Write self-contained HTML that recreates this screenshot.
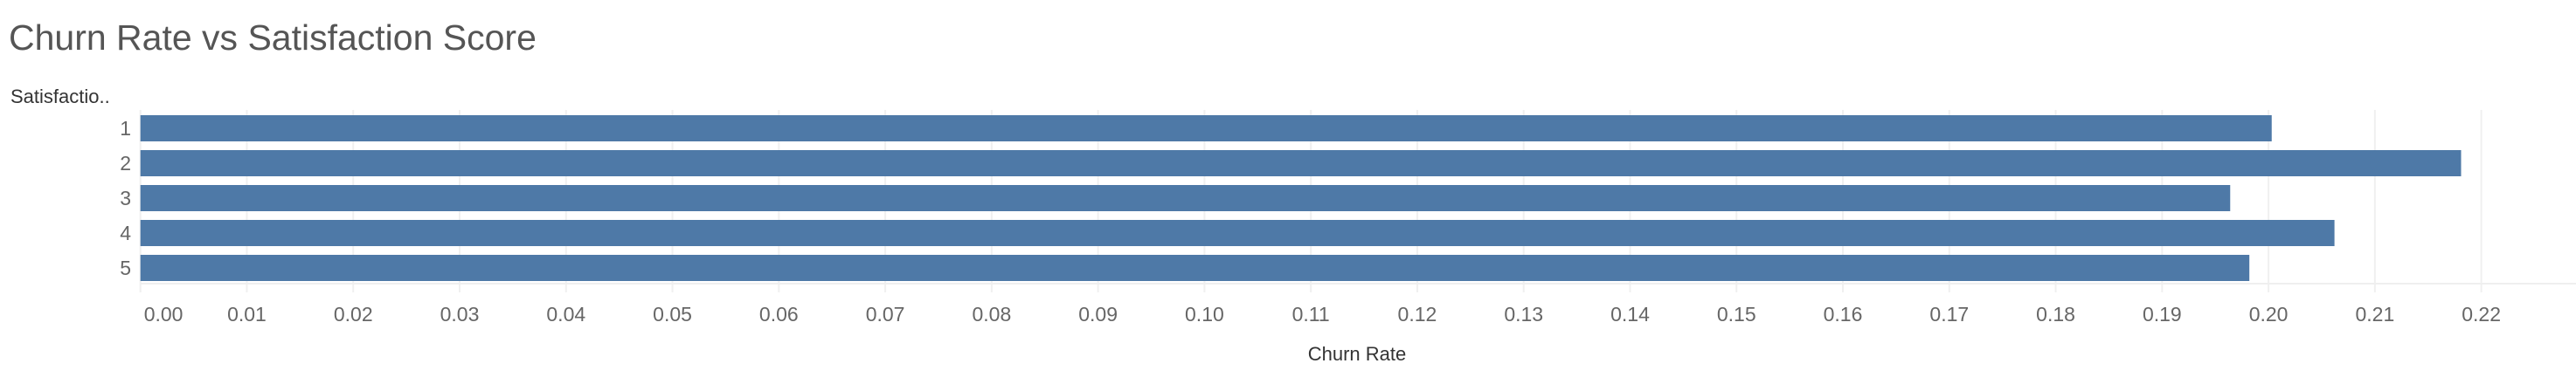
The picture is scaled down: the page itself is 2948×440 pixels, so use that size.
<!DOCTYPE html>
<html><head><meta charset="utf-8"><style>
body{margin:0;background:#fff;width:2948px;height:440px;overflow:hidden;font-family:"Liberation Sans",sans-serif}
svg{display:block}
</style></head><body>
<svg id="chart" width="2948" height="440">
<text x="10" y="57" font-size="41" fill="#555">Churn Rate vs Satisfaction Score</text>
<text x="12" y="118" font-size="22" fill="#333">Satisfactio..</text>
<text x="1553" y="413" font-size="22" fill="#333" text-anchor="middle">Churn Rate</text>
<g id="grid"></g><g id="bars"></g><g id="ylabels"></g><g id="xlabels"></g>
</svg>
<script>
const categories = ["1","2","3","4","5"];
const churnRates = [0.2003, 0.2181, 0.1964, 0.2062, 0.1982];
const xTicks = [0,0.01,0.02,0.03,0.04,0.05,0.06,0.07,0.08,0.09,0.10,0.11,0.12,0.13,0.14,0.15,0.16,0.17,0.18,0.19,0.20,0.21,0.22];
const tickLabels = ["0.00","0.01","0.02","0.03","0.04","0.05","0.06","0.07","0.08","0.09","0.10","0.11","0.12","0.13","0.14","0.15","0.16","0.17","0.18","0.19","0.20","0.21","0.22"];

const NS="http://www.w3.org/2000/svg";
const x0=160.7, pxPerUnit=12177;
function xs(v){return x0+v*pxPerUnit;}
function ys(i){return 132+i*40;}
function mk(tag,attrs,parent){const e=document.createElementNS(NS,tag);for(const k in attrs)e.setAttribute(k,attrs[k]);document.getElementById(parent).appendChild(e);return e;}

xTicks.forEach((t,i)=>{
  const g=mk('line',{x1:xs(t),x2:xs(t),y1:126,y2:335,stroke:'#f0f0f0','stroke-width':2},'grid');
  
  
  const first=(i===0);
  const l=mk('text',{x:first?xs(t)+4:xs(t),y:368,'font-size':23,fill:'#666','text-anchor':first?'start':'middle'},'xlabels');
  l.textContent=tickLabels[i];
  
  
});
const ax=mk('line',{x1:x0,x2:2948,y1:325,y2:325,stroke:'#efefef','stroke-width':2},'grid');



categories.forEach((c,i)=>{
  const b=mk('rect',{x:x0,y:ys(i),width:xs(churnRates[i])-x0,height:30,fill:'#4e79a7'},'bars');
  
  
  const t=mk('text',{x:150,y:ys(i)+23,'font-size':23,fill:'#666','text-anchor':'end'},'ylabels');
  t.textContent=c;
  
  
});
</script>
</body></html>
